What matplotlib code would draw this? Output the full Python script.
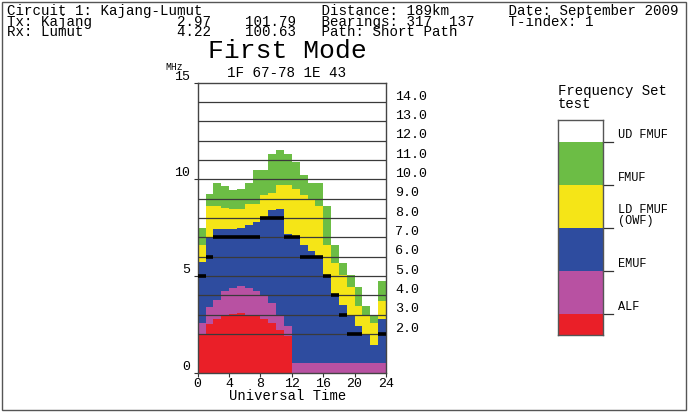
import matplotlib
matplotlib.use('Agg')
import matplotlib.pyplot as plt
import matplotlib.transforms as mtransforms
from matplotlib.patches import Rectangle
import numpy as np

plt.rcParams['font.family'] = ['Liberation Mono', 'DejaVu Sans Mono']

# hourly values (UT 0..23), MHz
hours = np.arange(25)
ud_fmuf = [7.5, 9.25, 9.8, 9.65, 9.45, 9.5, 9.8, 10.5, 10.5, 11.3, 11.5, 11.3,
           10.9, 10.25, 9.8, 9.8, 8.6, 6.6, 5.65, 5.05, 4.45, 3.45, 3.0, 4.75]
fmuf = [6.6, 8.6, 8.6, 8.5, 8.45, 8.45, 8.75, 8.75, 9.2, 9.3, 9.7, 9.7,
        9.5, 9.2, 9.0, 8.6, 6.6, 5.65, 5.05, 4.45, 3.45, 3.0, 2.55, 3.7]
owf = [5.7, 6.95, 7.45, 7.45, 7.45, 7.5, 7.65, 7.8, 8.05, 8.4, 8.45, 7.15,
       7.0, 6.6, 6.3, 6.0, 5.05, 4.0, 3.5, 2.95, 2.4, 1.95, 1.45, 2.8]
emuf = [2.55, 3.4, 3.75, 4.2, 4.4, 4.5, 4.4, 4.2, 3.95, 3.6, 3.0, 2.4,
        0.5, 0.5, 0.5, 0.5, 0.5, 0.5, 0.5, 0.5, 0.5, 0.5, 0.5, 0.5]
alf = [1.95, 2.5, 2.8, 2.95, 3.05, 3.07, 3.0, 2.95, 2.8, 2.55, 2.2, 1.9,
       0, 0, 0, 0, 0, 0, 0, 0, 0, 0, 0, 0]

c_white = 'white'
c_green = '#6cbd45'
c_yellow = '#f5e517'
c_blue = '#2e4c9f'
c_purple = '#b851a2'
c_red = '#ea1f28'

fig = plt.figure(figsize=(6.88, 4.13), dpi=100)
W, H = 688.0, 413.0

ax = fig.add_axes([197.7 / W, 1 - 372.7 / H, (386 - 197.7) / W, (372.7 - 82.7) / H])

for vals, col in [(ud_fmuf, c_green), (fmuf, c_yellow), (owf, c_blue),
                  (emuf, c_purple), (alf, c_red)]:
    v = np.append(vals, vals[-1])
    ax.fill_between(hours, 0, v, step='post', color=col, lw=0, zorder=1)

# frequency lines
for v in range(2, 15):
    ax.axhline(v, color='#3a3a3a', lw=0.9, zorder=3)

# black marks where OWF sits on a frequency line
for h in range(24):
    lev = np.floor(owf[h])
    if lev >= 2:
        ax.plot([h, h + 1], [lev, lev], color='black', lw=2.6,
                solid_capstyle='butt', zorder=4)

ax.set_xlim(0, 24)
ax.set_ylim(0, 15)
ax.set_xticks(range(0, 25, 4))
ax.set_yticks([0, 5, 10, 15])
ax.tick_params(direction='out', length=3, width=0.8, color='#333333',
               labelsize=9.5, pad=1)
ax.tick_params(axis='y', pad=2.5)
for lab in ax.get_yticklabels():
    lab.set_va('bottom')
for s in ax.spines.values():
    s.set_color('#444444')
    s.set_linewidth(1)

trans = mtransforms.blended_transform_factory(ax.transAxes, ax.transData)
for v in range(2, 15):
    ax.text(1.048, v + 0.27, '%d.0' % v, transform=trans, fontsize=9.6,
            ha='left', va='center')

# header, fixed-width columns like the original printout
l1 = 'Circuit 1: Kajang-Lumut'.ljust(37) + 'Distance: 189km'.ljust(22) + 'Date: September 2009'
l2 = 'Tx: Kajang'.ljust(20) + '2.97'.ljust(8) + '101.79'.ljust(9) + 'Bearings: 317  137'.ljust(22) + 'T-index: 1'
l3 = 'Rx: Lumut'.ljust(20) + '4.22'.ljust(8) + '100.63'.ljust(9) + 'Path: Short Path'
fig.text(7 / W, 1 - 4.5 / H, l1 + '\n' + l2 + '\n' + l3, fontsize=10.2,
         va='top', linespacing=0.67)

fig.text(287.5 / W, 1 - 58 / H, 'First Mode', fontsize=19, ha='center', va='baseline')
fig.text(286.7 / W, 1 - 73.3 / H, '1F 67-78 1E 43', fontsize=10.3, ha='center', va='center')
fig.text(174 / W, 1 - 67 / H, 'MHz', fontsize=7, ha='center', va='center')
fig.text(287.5 / W, 1 - 396 / H, 'Universal Time', fontsize=10, ha='center', va='center')

# frequency set key
fig.text(558 / W, 1 - 91 / H, 'Frequency Set', fontsize=10.1, va='center')
fig.text(558 / W, 1 - 104.5 / H, 'test', fontsize=10.1, va='center')

key_names = ['ALF', 'EMUF', 'LD FMUF\n(OWF)', 'FMUF', 'UD FMUF']
key_colors = [c_red, c_purple, c_blue, c_yellow, c_green, c_white]
key_edges = [0, 0.5, 1.5, 2.5, 3.5, 4.5, 5]

lax = fig.add_axes([558 / W, 1 - 335 / H, 45 / W, 215 / H])
for i, col in enumerate(key_colors):
    lax.bar(0.5, key_edges[i + 1] - key_edges[i], bottom=key_edges[i], width=1,
            color=col, lw=0)
lax.set_xlim(0, 1)
lax.set_ylim(0, 5)
lax.set_xticks([])
lax.set_yticks([])
for s in lax.spines.values():
    s.set_color('#555555')
    s.set_linewidth(1)
for i, name in enumerate(key_names):
    b = key_edges[i + 1]
    lax.plot([1, 1.22], [b, b], color='#333333', lw=0.9, clip_on=False)
    lax.text(1.33, b + 0.02, name, fontsize=8.6, va='bottom', ha='left',
             linespacing=0.8)

# outer frame
fig.patches.append(Rectangle((2 / W, 3 / H), 684 / W, 408 / H, fill=False,
                             edgecolor='#555555', lw=1, transform=fig.transFigure))

fig.savefig('out.png', dpi=100)
